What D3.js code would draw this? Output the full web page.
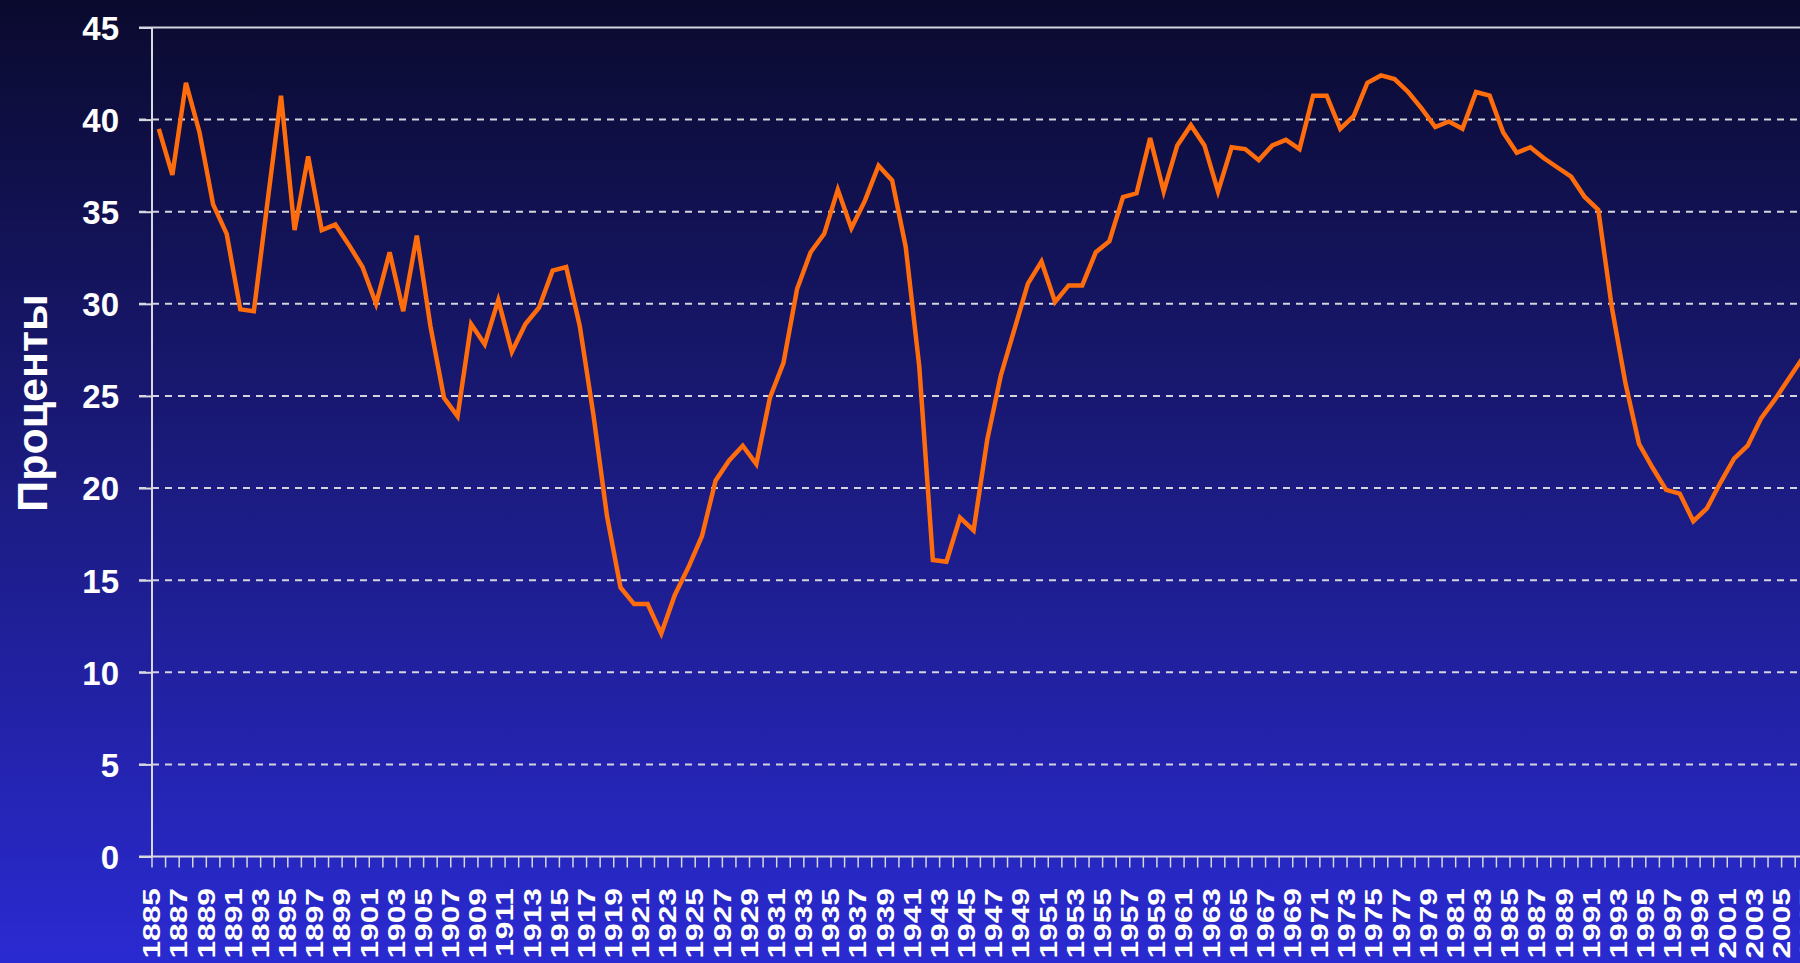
<!DOCTYPE html>
<html>
<head>
<meta charset="utf-8">
<script src="https://cdn.jsdelivr.net/npm/d3@7"></script>
<style>
  html, body { margin: 0; padding: 0; background: #0a0a30; overflow: hidden; }
  svg { display: block; font-family: "Liberation Sans", Arial, sans-serif; }
</style>
</head>
<body>
<div class="chart"></div>
<script>
// chart data
var years = d3.range(1885, 2008);

var shares = [
	39.5, 37.0, 42.0, 39.3, 35.4, 33.8, 29.7, 29.6, 35.5, 41.3,   // 1885-1894
	34.0, 38.0, 34.0, 34.3, 33.2, 32.0, 30.0, 32.8, 29.6, 33.7,   // 1895-1904
	28.8, 24.9, 23.9, 28.9, 27.8, 30.2, 27.4, 28.9, 29.8, 31.8,   // 1905-1914
	32.0, 28.8, 24.0, 18.5, 14.6, 13.7, 13.7, 12.1, 14.2, 15.7,   // 1915-1924
	17.4, 20.4, 21.5, 22.3, 21.3, 24.9, 26.8, 30.8, 32.8, 33.8,   // 1925-1934
	36.2, 34.1, 35.6, 37.5, 36.7, 33.1, 26.6, 16.1, 16.0, 18.4,   // 1935-1944
	17.7, 22.6, 26.1, 28.6, 31.1, 32.3, 30.1, 31.0, 31.0, 32.8,   // 1945-1954
	33.4, 35.8, 36.0, 39.0, 36.1, 38.6, 39.7, 38.6, 36.1, 38.5,   // 1955-1964
	38.4, 37.8, 38.6, 38.9, 38.4, 41.3, 41.3, 39.5, 40.2, 42.0,   // 1965-1974
	42.4, 42.2, 41.5, 40.6, 39.6, 39.9, 39.5, 41.5, 41.3, 39.3,   // 1975-1984
	38.2, 38.5, 37.9, 37.4, 36.9, 35.8, 35.1, 29.8, 25.7, 22.4,   // 1985-1994
	21.1, 19.9, 19.7, 18.2, 18.9, 20.3, 21.6, 22.3, 23.8, 24.8,   // 1995-2004
	25.9, 27.0, 27.8                                              // 2005-2007
];

var yTicks = [0, 5, 10, 15, 20, 25, 30, 35, 40, 45];
var yTitle = "Проценты";

// layout
var width = 1800,
	height = 963;

var plot = {
	left: 152,
	top: 27.5,
	bottom: 856.5,
	step: 13.58
};

var svg = d3.select(".chart")
	.append("svg")
	.attr("width", width)
	.attr("height", height)
	.attr("viewBox", "0 0 " + width + " " + height);

// background gradient
var grad = svg.append("defs")
	.append("linearGradient")
		.attr("id", "bg")
		.attr("x1", 0).attr("y1", 0)
		.attr("x2", 0).attr("y2", 1);
grad.append("stop").attr("offset", "0%").attr("stop-color", "#0a0a2e");
grad.append("stop").attr("offset", "50%").attr("stop-color", "#1b1b80");
grad.append("stop").attr("offset", "100%").attr("stop-color", "#2a2ad2");

svg.append("rect")
	.attr("width", width)
	.attr("height", height)
	.attr("fill", "url(#bg)");

// scales
var x = d3.scaleBand()
	.domain(years)
	.range([plot.left, plot.left + years.length * plot.step])
	.padding(0);

var y = d3.scaleLinear()
	.domain([0, 45])
	.range([plot.bottom, plot.top]);

// grid lines
svg.append("g")
		.attr("class", "grid")
	.selectAll("line")
	.data(yTicks.filter(function(d) { return d > 0; }))
	.enter().append("line")
		.attr("x1", plot.left - 13)
		.attr("x2", width)
		.attr("y1", function(d) { return y(d); })
		.attr("y2", function(d) { return y(d); })
		.attr("stroke", "#d4d4dc")
		.attr("stroke-width", 2)
		.attr("stroke-dasharray", function(d) { return d == 45 ? null : "7,6"; });

// y axis
var yAxis = svg.append("g")
	.attr("transform", "translate(" + plot.left + ",0)")
	.call(d3.axisLeft(y).tickValues(yTicks).tickSize(13).tickPadding(20));

yAxis.select(".domain")
	.attr("d", "M0," + y(45) + "V" + y(0));
yAxis.selectAll("path, line")
	.attr("stroke", "#d8d8e0")
	.attr("stroke-width", 2);
yAxis.selectAll("text")
	.attr("fill", "#ffffff")
	.attr("font-size", 33)
	.attr("font-weight", "bold")
	.attr("dy", "0.36em");

// x axis line and ticks
var xAxis = svg.append("g");

xAxis.append("line")
	.attr("x1", plot.left - 13)
	.attr("x2", width)
	.attr("y1", y(0))
	.attr("y2", y(0))
	.attr("stroke", "#d8d8e0")
	.attr("stroke-width", 2);

xAxis.selectAll(".tick")
	.data(years)
	.enter().append("line")
		.attr("class", "tick")
		.attr("x1", function(d) { return x(d); })
		.attr("x2", function(d) { return x(d); })
		.attr("y1", y(0))
		.attr("y2", y(0) + 11)
		.attr("stroke", "#d8d8e0")
		.attr("stroke-width", 1.5);

// year labels, stretched along the text like the original
xAxis.selectAll(".label")
	.data(years.filter(function(d) { return d % 2 == 1; }))
	.enter().append("text")
		.attr("class", "label")
		.attr("transform", function(d) {
			return "translate(" + x(d) + "," + 888 + ") rotate(-90) scale(1.38,1)";
		})
		.attr("dy", "0.36em")
		.attr("text-anchor", "end")
		.attr("fill", "#ffffff")
		.attr("font-size", 23)
		.attr("font-weight", "bold")
		.text(function(d) { return d; });

// y title
svg.append("text")
	.attr("transform", "translate(32,403) rotate(-90)")
	.attr("dy", "0.36em")
	.attr("text-anchor", "middle")
	.attr("fill", "#ffffff")
	.attr("font-size", 43)
	.attr("font-weight", "bold")
	.text(yTitle);

// the line
var line = d3.line()
	.x(function(d, i) { return x(years[i]) + x.bandwidth() / 2; })
	.y(function(d) { return y(d); });

svg.append("path")
	.datum(shares)
	.attr("d", line)
	.attr("fill", "none")
	.attr("stroke", "#ff6c0c")
	.attr("stroke-width", 4.5)
	.attr("stroke-linejoin", "miter");
</script>
</body>
</html>
